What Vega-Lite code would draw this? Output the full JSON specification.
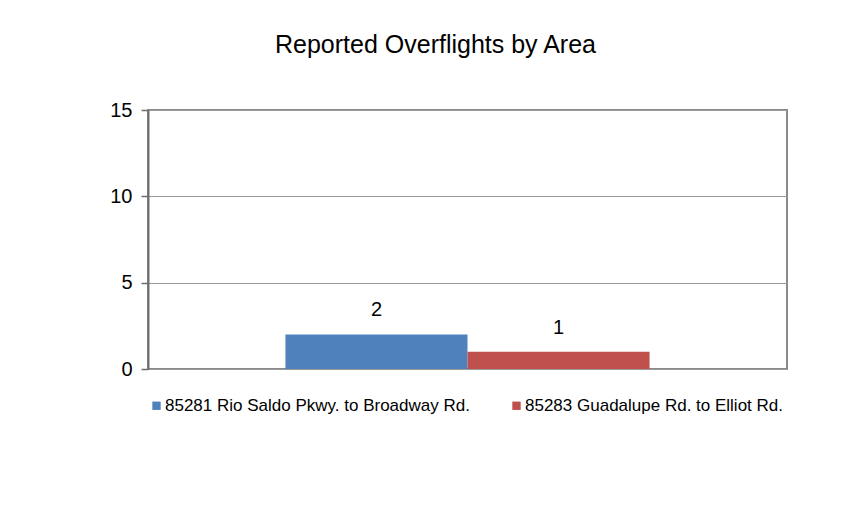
{
  "$schema": "https://vega.github.io/schema/vega-lite/v6.json",
  "width": 639,
  "height": 259,
  "autosize": "none",
  "padding": {"left": 148, "top": 110, "right": 75, "bottom": 137},
  "background": "white",
  "title": {
    "text": "Reported Overflights by Area",
    "fontSize": 25,
    "font": "Liberation Sans",
    "fontWeight": "normal",
    "color": "#000000",
    "anchor": "middle",
    "dx": -32,
    "offset": 42
  },
  "data": {
    "values": [
      {"area": "85281 Rio Saldo Pkwy. to Broadway Rd.", "count": 2},
      {"area": "85283 Guadalupe Rd. to Elliot Rd.", "count": 1}
    ]
  },
  "encoding": {
    "x": {
      "field": "area",
      "type": "nominal",
      "sort": null,
      "scale": {"paddingInner": 0, "paddingOuter": 0.755},
      "axis": null
    },
    "y": {
      "field": "count",
      "type": "quantitative",
      "scale": {"domain": [0, 15], "nice": false},
      "axis": {
        "values": [0, 5, 10, 15],
        "title": null,
        "grid": true,
        "gridColor": "#9a9a9a",
        "gridWidth": 1,
        "domainColor": "#6e6e6e",
        "domainWidth": 2,
        "tickColor": "#6e6e6e",
        "tickWidth": 1.5,
        "tickSize": 7,
        "labelPadding": 9,
        "labelFont": "Liberation Sans",
        "labelFontSize": 20,
        "labelColor": "#000000"
      }
    }
  },
  "layer": [
    {
      "mark": {"type": "bar"},
      "encoding": {
        "color": {
          "field": "area",
          "type": "nominal",
          "sort": null,
          "scale": {"range": ["#4F81BD", "#C0504D"]},
          "legend": {
            "orient": "none",
            "direction": "horizontal",
            "legendX": 0,
            "legendY": 287,
            "title": null,
            "padding": 0,
            "symbolType": "square",
            "symbolSize": 70,
            "symbolStrokeWidth": 0,
            "symbolOpacity": 1,
            "labelFont": "Liberation Sans",
            "labelFontSize": 17,
            "labelColor": "#000000",
            "labelOffset": 0,
            "columnPadding": 38,
            "labelLimit": 400
          }
        }
      }
    },
    {
      "mark": {
        "type": "text",
        "baseline": "bottom",
        "dy": -14,
        "font": "Liberation Sans",
        "fontSize": 20,
        "color": "#000000"
      },
      "encoding": {"text": {"field": "count", "type": "quantitative"}}
    }
  ],
  "config": {
    "view": {"stroke": "#8a8a8a", "strokeWidth": 2}
  }
}
